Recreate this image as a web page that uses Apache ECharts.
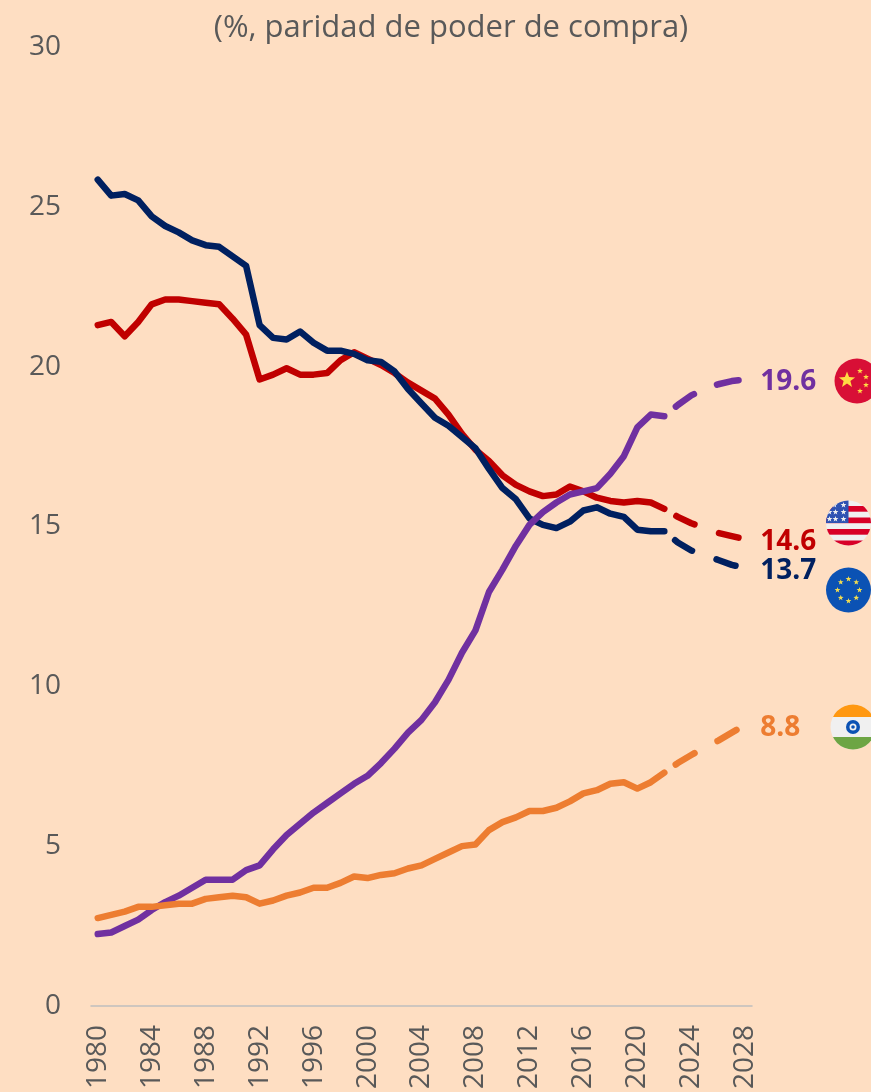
<!DOCTYPE html>
<html>
<head>
<meta charset="utf-8">
<style>
  html, body { margin: 0; padding: 0; background: #FEDEC2; overflow: hidden; }
  #chart { width: 871px; height: 1092px; }
</style>
</head>
<body>
<div id="chart"></div>
<script src="https://cdn.jsdelivr.net/npm/echarts@6/dist/echarts.min.js"></script>
<script>
const years = []
for (let y = 1980; y <= 2028; y++) years.push(String(y))
const lastActual = 42 // 2022, forecasts after this

const china = [2.25, 2.3, 2.5, 2.7, 3.0, 3.25, 3.45, 3.7, 3.95, 3.95, 3.95, 4.25, 4.4, 4.9, 5.35, 5.7, 6.05, 6.35, 6.65, 6.95, 7.2, 7.6, 8.05, 8.55, 8.95, 9.5, 10.2, 11.05, 11.75, 12.95, 13.65, 14.4, 15.05, 15.45, 15.75, 16.0, 16.1, 16.2, 16.65, 17.2, 18.1, 18.5, 18.45, 18.8, 19.1, 19.3, 19.45, 19.55, 19.6]
const usa = [21.3, 21.4, 20.95, 21.4, 21.95, 22.1, 22.1, 22.05, 22.0, 21.95, 21.5, 21.0, 19.6, 19.75, 19.95, 19.75, 19.75, 19.8, 20.2, 20.45, 20.25, 20.05, 19.8, 19.5, 19.25, 19.0, 18.5, 17.9, 17.4, 17.05, 16.6, 16.3, 16.1, 15.95, 16.0, 16.25, 16.1, 15.9, 15.8, 15.75, 15.8, 15.75, 15.55, 15.3, 15.1, 14.95, 14.8, 14.7, 14.6]
const eu = [25.85, 25.35, 25.4, 25.2, 24.7, 24.4, 24.2, 23.95, 23.8, 23.75, 23.45, 23.15, 21.3, 20.9, 20.85, 21.1, 20.75, 20.5, 20.5, 20.4, 20.2, 20.15, 19.85, 19.3, 18.85, 18.4, 18.15, 17.8, 17.45, 16.8, 16.2, 15.85, 15.25, 15.05, 14.95, 15.15, 15.5, 15.6, 15.4, 15.3, 14.9, 14.85, 14.85, 14.5, 14.25, 14.1, 13.95, 13.8, 13.7]
const india = [2.75, 2.85, 2.95, 3.1, 3.1, 3.15, 3.2, 3.2, 3.35, 3.4, 3.45, 3.4, 3.2, 3.3, 3.45, 3.55, 3.7, 3.7, 3.85, 4.05, 4.0, 4.1, 4.15, 4.3, 4.4, 4.6, 4.8, 5.0, 5.05, 5.5, 5.75, 5.9, 6.1, 6.1, 6.2, 6.4, 6.65, 6.75, 6.95, 7.0, 6.8, 7.0, 7.3, 7.6, 7.85, 8.1, 8.3, 8.55, 8.8]

const gray = '#595959'
const font = '"Open Sans", sans-serif'

function svgUrl(s) {
  return 'data:image/svg+xml;charset=utf-8,' + encodeURIComponent('<svg xmlns="http://www.w3.org/2000/svg" width="46" height="46" viewBox="0 0 46 46"><defs><clipPath id="c"><circle cx="23" cy="23" r="22.5"/></clipPath></defs><g clip-path="url(#c)">' + s + '</g></svg>')
}
function star(x, y, r, fill) {
  let p = []
  for (let i = 0; i < 10; i++) {
    const a = -Math.PI / 2 + i * Math.PI / 5, q = i % 2 ? r * 0.42 : r
    p.push((x + q * Math.cos(a)).toFixed(1) + ',' + (y + q * Math.sin(a)).toFixed(1))
  }
  return '<polygon points="' + p.join(' ') + '" fill="' + fill + '"/>'
}
const cnFlag = svgUrl('<rect width="46" height="46" fill="#D80F36"/>' + star(13, 22, 8.5, '#FFDA44') + star(26, 13, 3, '#FFDA44') + star(32, 19, 3, '#FFDA44') + star(32, 27, 3, '#FFDA44') + star(26, 33, 3, '#FFDA44'))
let usStripes = '<rect width="46" height="46" fill="#F0F0F0"/>'
for (let i = 0; i < 4; i++) usStripes += '<rect y="' + (6 + i * 11.5) + '" width="46" height="5.7" fill="#D80027"/>'
let usStars = '<rect width="23" height="23" fill="#2E52B2"/>'
;[[9, 5], [18, 5], [4, 12], [10, 12], [18, 12], [4, 19], [10, 19], [18, 19]].forEach(s => { usStars += star(s[0], s[1], 3, '#F0F0F0') })
const usFlag = svgUrl(usStripes + usStars)
let euStars = '<rect width="46" height="46" fill="#0B52B4"/>'
for (let i = 0; i < 8; i++) {
  const a = i * Math.PI / 4
  euStars += star(23 + 11 * Math.cos(a), 23 + 11 * Math.sin(a), 3, '#F2DC50')
}
const euFlag = svgUrl(euStars)
const inFlag = svgUrl('<rect width="46" height="46" fill="#F0F0F0"/><rect width="46" height="13" fill="#FF9811"/><rect y="33" width="46" height="13" fill="#6DA544"/><circle cx="23" cy="23" r="7" fill="#0B52B4"/><circle cx="23" cy="23" r="3.5" fill="#F0F0F0"/><circle cx="23" cy="23" r="1.8" fill="#0B52B4"/>')

function flag(url, cx, cy) {
  return { type: 'image', left: cx - 23, top: cy - 23, silent: true, style: { image: url, width: 46, height: 46 } }
}

function solidPart(arr) {
  return arr.map((v, i) => (i <= lastActual ? v : null))
}
function dashedPart(arr) {
  return arr.map((v, i) => (i >= lastActual ? v : null))
}
function makeSeries(name, arr, color, dash, dashOffset) {
  return [
    {
      name: name,
      type: 'line',
      data: solidPart(arr),
      symbol: 'none',
      silent: true,
      lineStyle: { color: color, width: 6.5, cap: 'round', join: 'round' }
    },
    {
      name: name + ' forecast',
      type: 'line',
      data: dashedPart(arr),
      symbol: 'none',
      silent: true,
      lineStyle: { color: color, width: 6.5, cap: 'round', type: dash, dashOffset: dashOffset },
      endLabel: {
        show: true,
        distance: 15,
        offset: [0, 3],
        color: color,
        fontFamily: font,
        fontSize: 28,
        fontWeight: 'bold',
        formatter: p => p.value[1] !== undefined ? p.value[1].toFixed(1) : Number(p.value).toFixed(1)
      }
    }
  ]
}

const chart = echarts.init(document.getElementById('chart'), null, { renderer: 'canvas' })
chart.setOption({
  animation: false,
  backgroundColor: '#FEDEC2',
  title: {
    text: '(%, paridad de poder de compra)',
    left: 446,
    top: 8,
    textAlign: 'center',
    textStyle: { color: gray, fontFamily: font, fontSize: 31, fontWeight: 'normal' }
  },
  grid: { left: 91, right: 119, top: 47, bottom: 85 },
  xAxis: {
    type: 'category',
    data: years,
    boundaryGap: true,
    axisTick: { show: false },
    axisLine: { lineStyle: { color: '#BFBFBF', width: 1.5 } },
    axisLabel: { interval: 3, rotate: 90, margin: 19, padding: [3, 0, 0, 0], color: gray, fontFamily: font, fontSize: 28 }
  },
  yAxis: {
    type: 'value',
    min: 0,
    max: 30,
    interval: 5,
    splitLine: { show: false },
    axisLine: { show: false },
    axisTick: { show: false },
    axisLabel: { margin: 30, padding: [2, 0, 0, 0], color: gray, fontFamily: font, fontSize: 28 }
  },
  series: [
    ...makeSeries('Estados Unidos', usa, '#C00000', [20, 26], 32),
    ...makeSeries('Unión Europea', eu, '#002060', [20, 26], 32),
    ...makeSeries('China', china, '#7030A0', [22, 25], 32),
    ...makeSeries('India', india, '#ED7D31', [22, 26], 34)
  ],
  graphic: [
    flag(cnFlag, 857, 381),
    flag(usFlag, 848.5, 523),
    flag(euFlag, 848.5, 590),
    flag(inFlag, 853, 727)
  ]
})
</script>
</body>
</html>
